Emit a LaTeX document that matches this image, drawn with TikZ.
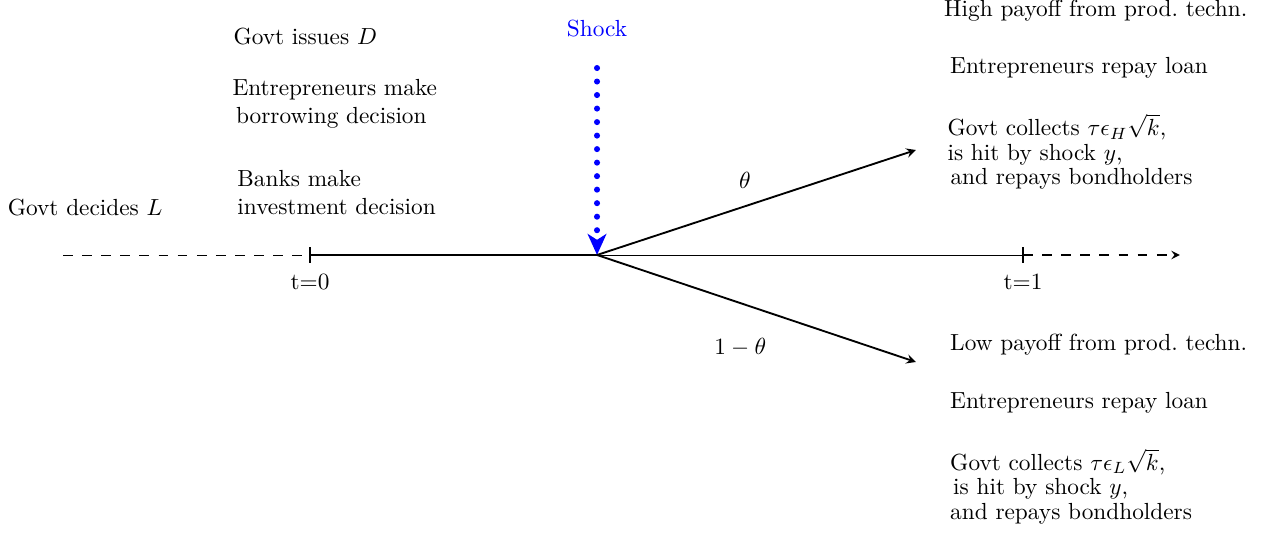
\documentclass[tikz,border=0pt]{standalone}
\usepackage{amsmath,amssymb}
\usetikzlibrary{positioning,arrows.meta}

\begin{document}
\begin{tikzpicture}
			\useasboundingbox (-9.005,-4.193) rectangle (10.09,3.846);
			\tikzset{event/.style={align=left, inner sep=0pt},
				longdash/.style={dash pattern=on 4.2pt off 4pt}}

			% timeline
			\coordinate (origin) at (0,0);
			\coordinate (tzero) at (-4.329,0);
			\coordinate (tone) at (6.425,0);
			\coordinate (past) at (-8.054,0);
			\coordinate (future) at (8.79,0);
			\draw[longdash] (past) -- (tzero);
			\draw[thick] (tzero) -- (origin);
			\draw (origin) -- (tone);
			\draw[semithick, longdash, ->, >=stealth] (tone) -- (future);
			\foreach \t/\lab in {tzero/t=0, tone/t=1}
				\draw[thick] ([yshift=-0.12cm]\t) -- ([yshift=0.12cm]\t) node[pos=0, below=0.03cm] {\lab};

			% shock
			\coordinate (shocktop) at (0,2.82);
			\node[blue] (shock) at (0,3.42) {Shock};
			\draw[blue, line width=2.6pt, line cap=round, dash pattern=on 0pt off 5.8pt, -{Stealth[length=9pt, width=8pt, inset=2.5pt]}] (shocktop) -- (origin);

			% branches
			\coordinate (hi) at (4.81,1.584);
			\coordinate (lo) at (4.81,-1.614);
			\draw[thick, ->, >=stealth] (origin) -- (hi);
			\draw[thick, ->, >=stealth] (origin) -- (lo);
			\node (theta) at (2.23,1.13) {$\theta$};
			\node (ntheta) at (2.16,-1.40) {$1-\theta$};

			% before t=0
			\node (govtL) at (-7.72,0.71) {Govt decides $L$};
			\node[event, anchor=west] (banks) at (-5.43,0.935) {Banks make\\investment decision};
			\node[event, anchor=west] (borrow) at (-5.505,2.28) {Entrepreneurs make\\\hspace{1.5pt}borrowing decision};
			\node[event, anchor=west] (govtD) at (-5.49,3.29) {Govt issues $D$};

			% high state
			\node[event, anchor=west] (highpay) at (5.23,3.68) {High payoff from prod.\ techn.};
			\node[event, anchor=west] (highrepay) at (5.32,2.82) {Entrepreneurs repay loan};
			\node[event, anchor=west] (highgovt) at (5.28,1.56) {Govt collects $\tau\epsilon_H\sqrt{k}$,\\[-1.5pt]is hit by shock $y$,\\[-1.5pt]\hspace{1.3pt}and repays bondholders};

			% low state
			\node[event, anchor=west] (lowpay) at (5.32,-1.36) {Low payoff from prod.\ techn.};
			\node[event, anchor=west] (lowrepay) at (5.32,-2.23) {Entrepreneurs repay loan};
			\node[event, anchor=west] (lowgovt) at (5.32,-3.49) {Govt collects $\tau\epsilon_L\sqrt{k}$,\\[-1.5pt]\hspace{1.3pt}is hit by shock $y$,\\[-1.5pt]and repays bondholders};
\end{tikzpicture}
\end{document}
